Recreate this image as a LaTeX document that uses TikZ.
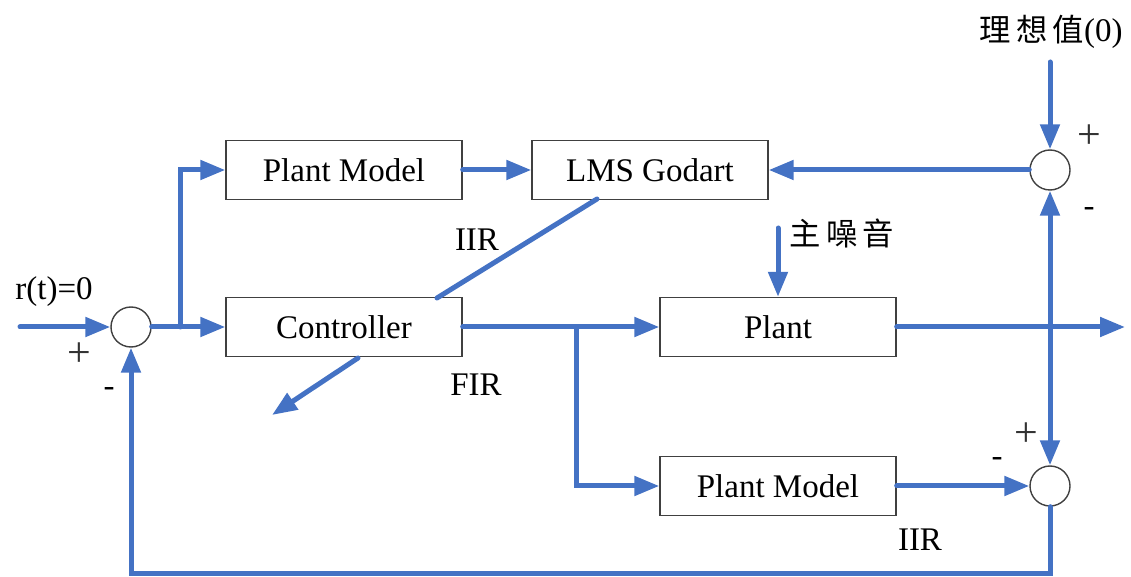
\documentclass[tikz,border=0pt]{standalone}
\usepackage{fontspec}
\setmainfont{Liberation Serif}
\newfontfamily\cjk{Noto Sans CJK TC}[Scale=0.95]
\usetikzlibrary{arrows.meta}
\definecolor{sigblue}{RGB}{68,114,196}

\begin{document}
\begin{tikzpicture}
	[x=0.5pt, y=-0.5pt,
	every node/.style={font=\fontsize{16.5}{20}\selectfont, inner sep=1pt},
	block/.style={draw=black!75, line width=0.7pt, minimum width=118pt, minimum height=29.5pt},
	sum/.style={circle, draw=black!75, line width=0.7pt, minimum size=20pt, inner sep=0pt},
	sign/.style={font=\fontsize{21}{24}\selectfont, text=black!80},
	wire/.style={draw=sigblue, line width=2.5pt, line cap=round},
	sig/.style={wire, -{Triangle[length=12.5pt,width=9.5pt]}}]
	\useasboundingbox (0,0) rectangle (1131,577);
	\coordinate (in) at (20,327);
	\coordinate (top) at (1050,62);
	\coordinate (nz) at (778,228);
	\coordinate (out) at (1125,327);
	\coordinate (j1) at (180,327);
	\coordinate (j2) at (576,327);
	\coordinate (j3) at (1050,327);
	\coordinate (a1) at (597,199);
	\coordinate (a2) at (437,298);
	\coordinate (b1) at (358,358);
	\coordinate (b2) at (272,415);
	\node (s1) [sum] at (131,327) {};
	\node (s2) [sum] at (1050,170) {};
	\node (s3) [sum] at (1050,486) {};
	\node (pm1) [block] at (344,170) {Plant Model};
	\node (lms) [block] at (650,170) {LMS Godart};
	\node (ctrl) [block] at (344,327) {Controller};
	\node (plant) [block] at (778,327) {Plant};
	\node (pm2) [block] at (778,486) {Plant Model};
	\node (r) at (54,292) {r(t)=0};
	\node (ideal) at (1051,32) {{\cjk 理\,想\,值}(0)};
	\node (noise) at (842,233) {\cjk 主\,噪\,音};
	\node (iir1) at (477,240) {IIR};
	\node (fir) at (476,385) {FIR};
	\node (iir2) at (920,540) {IIR};
	\node (p1) [sign] at (79,355) {+};
	\node (m1) at (109,392) {-};
	\node (p2) [sign] at (1089,137) {+};
	\node (m2) at (1089,212) {-};
	\node (p3) [sign] at (1026,435) {+};
	\node (m3) at (997,462) {-};
	\draw [sig] (in) -- (s1.west);
	\draw [sig] (s1.east) -- (ctrl.west);
	\draw [sig] (j1) |- (pm1.west);
	\draw [sig] (pm1.east) -- (lms.west);
	\draw [sig] (s2.west) -- (lms.east);
	\draw [sig] (top) -- (s2.north);
	\draw [sig] (ctrl.east) -- (plant.west);
	\draw [sig] (j2) |- (pm2.west);
	\draw [sig] (nz) -- (plant.north);
	\draw [sig] (plant.east) -- (out);
	\draw [sig] (j3) -- (s2.south);
	\draw [sig] (j3) -- (s3.north);
	\draw [sig] (pm2.east) -- (s3.west);
	\draw [sig] (s3.south) -- ++(0,67) -| (s1.south);
	\draw [wire] (a1) -- (a2);
	\draw [sig] (b1) -- (b2);
\end{tikzpicture}
\end{document}
